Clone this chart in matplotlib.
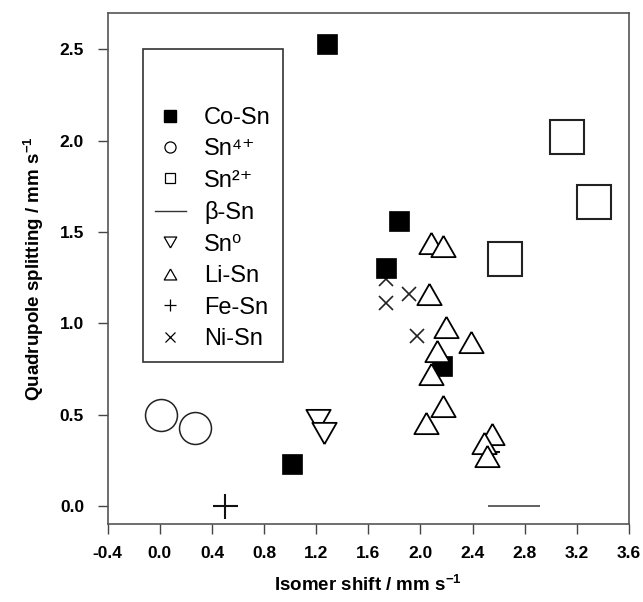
import numpy as np
import matplotlib
matplotlib.use('Agg')
import matplotlib.pyplot as plt
from matplotlib.lines import Line2D

plt.rcParams['font.family'] = ['Liberation Sans', 'DejaVu Sans']
plt.rcParams['mathtext.fontset'] = 'custom'
plt.rcParams['mathtext.rm'] = 'Liberation Sans'
plt.rcParams['mathtext.it'] = 'Liberation Sans:italic'
plt.rcParams['mathtext.bf'] = 'Liberation Sans:bold'
plt.rcParams['axes.unicode_minus'] = False

# data (isomer shift, quadrupole splitting)
co_x = [1.285, 1.838, 1.736, 2.163, 1.017]
co_y = [2.527, 1.562, 1.301, 0.764, 0.229]

sn4_x = [0.009, 0.270]
sn4_y = [0.499, 0.426]

sn2_x = [3.124, 3.332, 2.649]
sn2_y = [2.017, 1.662, 1.352]

beta_x = [2.72]
beta_y = [0.0]

sn0_x = [1.216, 1.260]
sn0_y = [0.471, 0.398]

li_x = [2.079, 2.171, 2.068, 2.196, 2.388, 2.130, 2.079, 2.171, 2.043, 2.547, 2.488, 2.509]
li_y = [1.440, 1.422, 1.160, 0.979, 0.896, 0.846, 0.723, 0.547, 0.456, 0.396, 0.344, 0.272]

fe_x = [0.500, 2.509]
fe_y = [0.000, 0.298]

ni_x = [1.734, 1.912, 1.972, 1.736]
ni_y = [1.111, 1.162, 0.928, 1.243]

labels = ['Co-Sn', 'Sn⁴⁺', 'Sn²⁺', 'β-Sn', 'Sn⁰', 'Li-Sn', 'Fe-Sn', 'Ni-Sn']

xticks = np.arange(-0.4, 3.61, 0.4)
yticks = np.arange(0.0, 2.51, 0.5)

# triangle a bit wider than tall
tri_up = [(0, 0.875), (-1, -0.875), (1, -0.875), (0, 0.875)]
tri_dn = [(0, -0.875), (-1, 0.875), (1, 0.875), (0, -0.875)]

fig = plt.figure(figsize=(6.43, 6.02), dpi=100)
ax = fig.add_axes([0.1675, 0.1291, 0.8107, 0.8498])

ax.plot(ni_x, ni_y, ls='none', marker='x', ms=9.5, mew=1.2, color='#222222', zorder=2)
ax.plot(fe_x, fe_y, ls='none', marker='+', ms=18, mew=1.5, color='#111111', zorder=2)
ax.plot(co_x, co_y, ls='none', marker='s', ms=14, mfc='black', mec='black', mew=0.5, zorder=3)
ax.plot(sn4_x, sn4_y, ls='none', marker='o', ms=23, mfc='white', mec='#222222', mew=1.1, zorder=3)
ax.plot(sn2_x, sn2_y, ls='none', marker='s', ms=25, mfc='white', mec='#222222', mew=1.5, zorder=3)
ax.plot(beta_x, beta_y, ls='none', marker='_', ms=37, mew=1.3, color='#555555', zorder=3)
for x, y in zip(sn0_x, sn0_y):
    ax.plot(x, y, ls='none', marker=tri_dn, ms=17.5, mfc='white', mec='black', mew=1.3, zorder=4)
for x, y in zip(li_x, li_y):
    ax.plot(x, y, ls='none', marker=tri_up, ms=17.5, mfc='white', mec='black', mew=1.3, zorder=4)

ax.set_xlim(-0.4, 3.6)
ax.set_ylim(-0.1, 2.7)
ax.set_xticks(xticks)
ax.set_xticklabels(['%.1f' % v for v in xticks], fontweight='bold', fontsize=12.5)
ax.set_yticks(yticks)
ax.set_yticklabels(['%.1f' % v for v in yticks], fontweight='bold', fontsize=12.5)
ax.tick_params(axis='x', direction='out', length=7.5, width=1, color='#444444', pad=8)
ax.tick_params(axis='y', direction='out', length=7, width=1, color='#444444', pad=10)
for s in ax.spines.values():
    s.set_color('#555555')
    s.set_linewidth(1.2)

ax.set_xlabel(r'Isomer shift / mm s$^{\mathbf{-1}}$', fontsize=13.5, fontweight='bold', labelpad=10)
ax.set_ylabel(r'Quadrupole splitting / mm s$^{\mathbf{-1}}$', fontsize=13.5, fontweight='bold', labelpad=10)

handles = [
    Line2D([], [], ls='none', marker='s', ms=8, mfc='black', mec='black'),
    Line2D([], [], ls='none', marker='o', ms=8, mfc='white', mec='black', mew=0.9),
    Line2D([], [], ls='none', marker='s', ms=7.5, mfc='white', mec='black', mew=0.9),
    Line2D([], [], ls='-', lw=1.0, color='#333333'),
    Line2D([], [], ls='none', marker=tri_dn, ms=9, mfc='white', mec='black', mew=0.9),
    Line2D([], [], ls='none', marker=tri_up, ms=9, mfc='white', mec='black', mew=0.9),
    Line2D([], [], ls='none', marker='+', ms=9, mew=0.9, color='black'),
    Line2D([], [], ls='none', marker='x', ms=7, mew=0.9, color='black'),
]
leg = ax.legend(handles, labels, loc='upper left', bbox_to_anchor=(0.0683, 0.929),
                borderaxespad=0, fontsize=17, frameon=True, fancybox=False,
                edgecolor='#333333', framealpha=1, handlelength=1.3, handletextpad=0.78,
                labelspacing=0.4, borderpad=0.5, title='\n', title_fontsize=13.7)
leg.get_frame().set_linewidth(1.2)

fig.savefig('out.png', dpi=100)
